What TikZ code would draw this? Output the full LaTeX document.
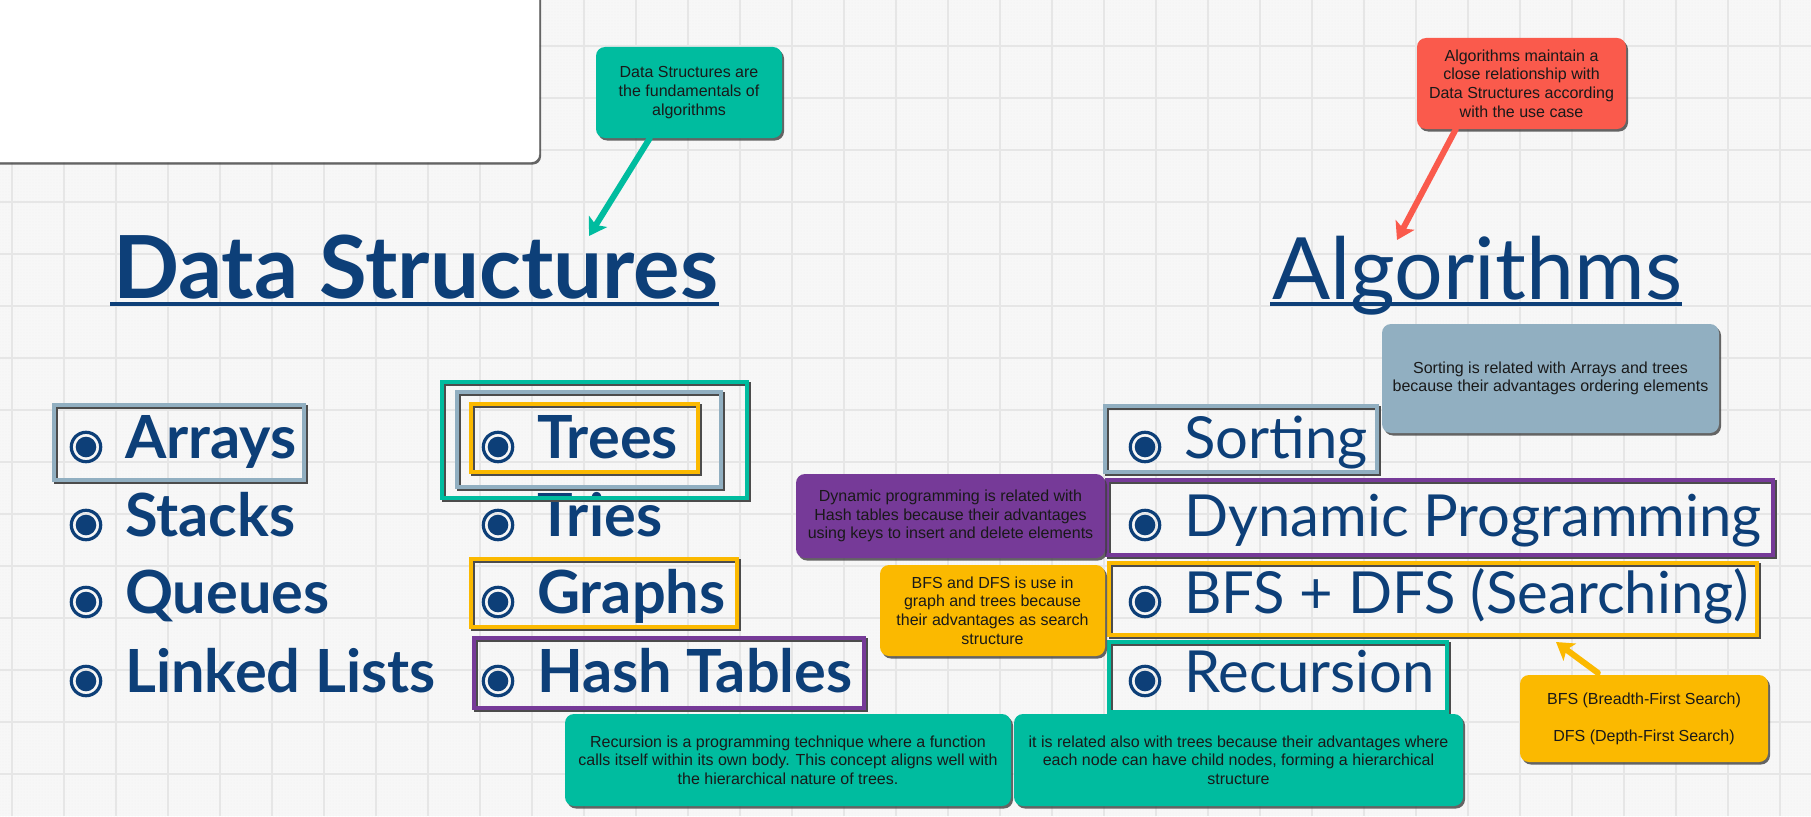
\documentclass[tikz,border=0pt]{standalone}
\usepackage{fontspec}
\setmainfont{Liberation Sans}
\newfontfamily\listfont{Lato}
\usepackage{tikz}
\usetikzlibrary{arrows.meta,shadows,patterns}
\definecolor{pagebg}{HTML}{F7F7F7}
\definecolor{gridline}{HTML}{E6E6E6}
\definecolor{navy}{HTML}{0D3F78}
\definecolor{tealc}{HTML}{00BC9F}
\definecolor{coralc}{HTML}{FA5A4C}
\definecolor{purplec}{HTML}{763A98}
\definecolor{yellowc}{HTML}{FBB900}
\definecolor{slatec}{HTML}{91AFC1}

\tikzset{
  note/.style={rounded corners=9pt, fill=#1, align=center, inner sep=0pt,
    text=black!90, font=\fontsize{16}{18.7}\selectfont,
    drop shadow={shadow xshift=2pt, shadow yshift=-2.5pt, opacity=.8, fill=black!75}},
  hl/.style={draw=#1, line width=4pt,
    preaction={draw=black!70, line width=4pt, transform canvas={shift={(1.5,1.5)}}}},
  callarrow/.style={draw=#1, line width=6pt, line cap=round,
    -{Stealth[length=17pt,width=21pt,inset=4pt]}},
  dsitem/.style={anchor=base west, inner sep=0pt, text=navy,
    font=\listfont\bfseries\fontsize{59.5}{62}\selectfont},
  algitem/.style={anchor=base west, inner sep=0pt, text=navy,
    font=\listfont\fontsize{58}{60}\selectfont},
  bulring/.style={draw=navy, line width=3.2pt},
  bulcore/.style={fill=navy}
}

\begin{document}
\begin{tikzpicture}[x=1pt,y=-1pt]
  \useasboundingbox (0,0) rectangle (1811,816);
  \fill[pagebg] (0,0) rectangle (1811,816);
  \fill[pattern=dots, pattern color=black!6] (0,0) rectangle (1811,816);
  \foreach \k in {0,...,34}
    \draw[gridline, line width=2pt] (12+52*\k,0) -- (12+52*\k,816);
  \foreach \k in {0,...,14}
    \draw[gridline, line width=2pt] (0,46+52*\k) -- (1811,46+52*\k);

  % blank card
  \draw[fill=white, draw=white, rounded corners=8pt,
    drop shadow={shadow xshift=2pt, shadow yshift=-2.5pt, opacity=.8, fill=black!75}]
    (-20,-20) rectangle (539,162);

  % headings
  \node[anchor=base west, inner sep=0pt, text=navy,
    font=\listfont\bfseries\fontsize{87}{90}\selectfont] (dstitle) at (113,298) {Data Structures};
  \draw[navy, line width=3.5pt] ([xshift=-3pt,yshift=-6pt]dstitle.base west) -- ([yshift=-6pt]dstitle.base east);
  \node[anchor=base west, inner sep=0pt, text=navy,
    font=\listfont\fontsize{86}{90}\selectfont] (algtitle) at (1272,299) {Algorithms};
  \draw[navy, line width=3.5pt] ([xshift=-2pt,yshift=-5pt]algtitle.base west) -- ([yshift=-5pt]algtitle.base east);

  % lists
  \node[dsitem] (arrays) at (125,458) {Arrays};
  \node[dsitem] (stacks) at (125,536) {Stacks};
  \node[dsitem] (queues) at (125,613) {Queues};
  \node[dsitem] (linked) at (125,692) {Linked Lists};
  \node[dsitem] (trees) at (537,458) {Trees};
  \node[dsitem] (tries) at (537,536) {Tries};
  \node[dsitem] (graphs) at (537,613) {Graphs};
  \node[dsitem] (hash) at (537,692) {Hash Tables};
  \node[algitem] (sorting) at (1184,458) {Sorting};
  \node[algitem] (dynprog) at (1184,536) {Dynamic Programming};
  \node[algitem] (bfsdfs) at (1184,613) {BFS + DFS (Searching)};
  \node[algitem] (recursion) at (1184,692) {Recursion};
  \foreach \n in {arrays,stacks,queues,linked,trees,tries,graphs,hash,sorting,dynprog,bfsdfs,recursion}{
    \draw[bulring] ([xshift=-39pt,yshift=11pt]\n.base west) circle (14.7);
    \fill[bulcore] ([xshift=-39pt,yshift=11pt]\n.base west) circle (10.3);
  }

  % frames
  \draw[hl=slatec] (54,405) rectangle (304,480);
  \draw[hl=tealc] (442,382) rectangle (747,498);
  \draw[hl=slatec] (457,392) rectangle (721,487);
  \draw[hl=yellowc] (471,404) rectangle (698,472);
  \draw[hl=yellowc] (471,559) rectangle (737,627);
  \draw[hl=purplec] (474,638) rectangle (864,708);
  \draw[hl=slatec] (1105,406) rectangle (1377,472);
  \draw[hl=purplec] (1107,480) rectangle (1773,555);
  \draw[hl=yellowc] (1109,563) rectangle (1757,635);
  \draw[hl=tealc] (1109,642) rectangle (1447,712);

  % notes
  \node[note=tealc, minimum width=186pt, minimum height=91pt] (dsnote) at (689,92.5)
    {Data Structures are\\the fundamentals of\\algorithms};
  \node[note=coralc, minimum width=209pt, minimum height=91pt] (algnote) at (1521.5,83.5)
    {Algorithms maintain a\\close relationship with\\Data Structures according\\with the use case};
  \node[note=slatec, minimum width=337pt, minimum height=109pt] (sortnote) at (1550.5,378.5)
    {Sorting is related with Arrays and trees\\because their advantages ordering elements};
  \node[note=purplec, minimum width=309pt, minimum height=84pt] (dpnote) at (950.5,516)
    {Dynamic programming is related with\\Hash tables because their advantages\\using keys to insert and delete elements};
  \node[note=yellowc, minimum width=225pt, minimum height=91pt] (bfsnote) at (992.5,610.5)
    {BFS and DFS is use in\\graph and trees because\\their advantages as search\\structure};
  \node[note=tealc, minimum width=446pt, minimum height=92pt] (recnote) at (788,760)
    {Recursion is a programming technique where a function\\calls itself within its own body. This concept aligns well with\\the hierarchical nature of trees.};
  \node[note=tealc, minimum width=449pt, minimum height=92pt] (treenote) at (1238.5,760)
    {it is related also with trees because their advantages where\\each node can have child nodes, forming a hierarchical\\structure};
  \node[note=yellowc, minimum width=248pt, minimum height=87pt] (searchnote) at (1644,718.5)
    {BFS (Breadth-First Search)\\[18.5pt]DFS (Depth-First Search)};

  % pointers
  \coordinate (dstip) at (589,236);
  \coordinate (algtip) at (1397,240);
  \coordinate (searchtip) at (1556,642);
  \draw[callarrow=tealc] ([xshift=54pt]dsnote.south west) -- (dstip);
  \draw[callarrow=coralc] ([xshift=39pt]algnote.south west) -- (algtip);
  \draw[callarrow=yellowc] ([xshift=78pt,yshift=2pt]searchnote.north west) -- (searchtip);
\end{tikzpicture}
\end{document}
